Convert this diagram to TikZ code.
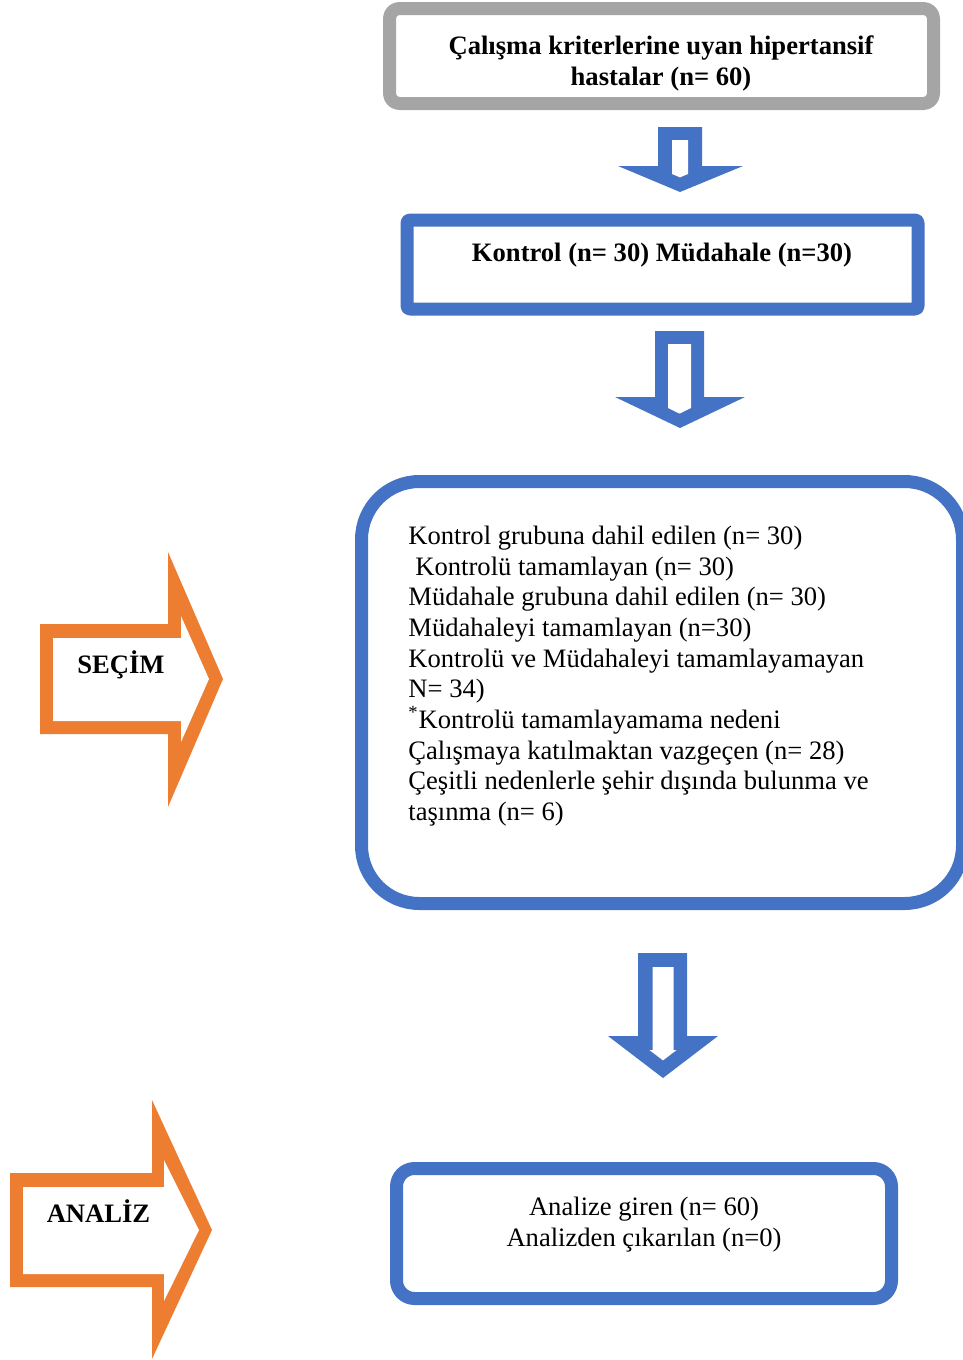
\documentclass[tikz,border=0pt]{standalone}
\usepackage{fontspec}
\setmainfont{Liberation Serif}

\definecolor{boxblue}{HTML}{4472C4}
\definecolor{steporange}{HTML}{ED7D31}
\definecolor{framegray}{HTML}{A5A5A5}

\begin{document}
\begin{tikzpicture}[line cap=round,line join=round,x=0.5pt,y=-0.5pt,
  txt/.style={inner sep=0pt,font=\fontsize{13.3}{15.35}\selectfont},
  btxt/.style={inner sep=0pt,font=\fontsize{13.3}{15.35}\selectfont\bfseries},
  frame/.style={line width=6.5pt,fill=white},
  hollow/.style={fill=white}]

\useasboundingbox (0,0) rectangle (963,1360);

%top box
\draw[frame,draw=framegray,rounded corners=5pt] (389.5,8.5) rectangle (933.5,103.5);
\node[btxt,align=center,anchor=north] (pool) at (661,35.5)
  {Çalışma kriterlerine uyan hipertansif\\hastalar (n= 60)};

%arrow 1
\fill[boxblue] (658,127) -- (702,127) -- (702,166) -- (743,166) -- (680,192) -- (618,166) -- (658,166) -- cycle;
\fill[hollow] (672,140) -- (688,140) -- (688,174) -- (680,177.4) -- (672,174) -- cycle;

%groups box
\draw[frame,draw=boxblue,rounded corners=1.5pt] (407,220) rectangle (918,309);
\node[btxt,anchor=base] (groups) at (662,261) {Kontrol (n= 30) Müdahale (n=30)};

%arrow 2
\fill[boxblue] (655,331) -- (704,331) -- (704,397) -- (745,397) -- (680,428) -- (615,397) -- (655,397) -- cycle;
\fill[hollow] (668,344) -- (691,344) -- (691,408) -- (679.5,413.6) -- (668,408) -- cycle;

%selection box
\draw[frame,draw=boxblue,rounded corners=29pt] (361.5,481.5) rectangle (962.5,903.5);
\node[txt,align=left,anchor=north west] (follow) at (408,525.5)
  {Kontrol grubuna dahil edilen (n= 30)\\
   \hspace*{3.5pt}Kontrolü tamamlayan (n= 30)\\
   Müdahale grubuna dahil edilen (n= 30)\\
   Müdahaleyi tamamlayan (n=30)\\
   Kontrolü ve Müdahaleyi tamamlayamayan\\
   N= 34)\\
   \textsuperscript{*}Kontrolü tamamlayamama nedeni\\
   Çalışmaya katılmaktan vazgeçen (n= 28)\\
   Çeşitli nedenlerle şehir dışında bulunma ve\\
   taşınma (n= 6)};

%arrow 3
\fill[boxblue] (638,953) -- (687,953) -- (687,1036) -- (718,1036) -- (663,1078) -- (608,1036) -- (638,1036) -- cycle;
\fill[hollow] (652.5,967) -- (673.5,967) -- (673.5,1050) -- (676.6,1050) -- (663,1060.4) -- (649.4,1050) -- (652.5,1050) -- cycle;

%analysis box
\draw[frame,draw=boxblue,rounded corners=9pt] (396.5,1168.5) rectangle (891.5,1298.5);
\node[txt,align=center,anchor=north] (analysis) at (644,1196.5)
  {Analize giren (n= 60)\\Analizden çıkarılan (n=0)};

%side arrows
\fill[steporange] (40,624) -- (168,624) -- (168,552) -- (223,679) -- (168,807) -- (168,734) -- (40,734) -- cycle;
\fill[hollow] (53,638) -- (181,638) -- (181,616) -- (209,679) -- (181,742) -- (181,721) -- (53,721) -- cycle;
\node[btxt,anchor=base] (secim) at (121,673) {SEÇİM};

\fill[steporange] (10,1173) -- (152,1173) -- (152,1100) -- (212,1230) -- (152,1359) -- (152,1287) -- (10,1287) -- cycle;
\fill[hollow] (23,1187) -- (164,1187) -- (164,1160) -- (199,1230) -- (164,1301) -- (164,1274) -- (23,1274) -- cycle;
\node[btxt,anchor=base] (analiz) at (98.5,1222) {ANALİZ};

\end{tikzpicture}
\end{document}
